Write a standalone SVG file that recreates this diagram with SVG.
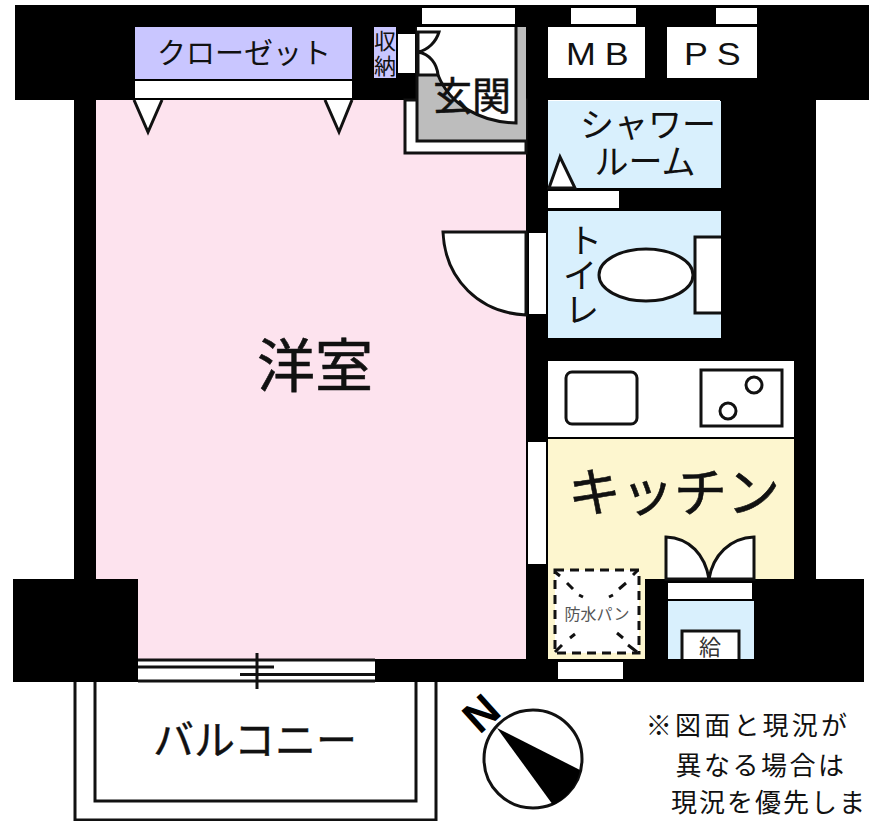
<svg xmlns="http://www.w3.org/2000/svg" width="869" height="821" viewBox="0 0 869 821">
<style>
text{font-family:"Noto Sans CJK JP","Noto Sans",sans-serif;fill:#111;text-anchor:middle;font-weight:400}
.l{fill:none;stroke:#111;stroke-width:3}
.w{fill:#fff;stroke:#111;stroke-width:3}
.d{fill:none;stroke:#111;stroke-width:3}
.en{font-family:"Liberation Sans",sans-serif;font-weight:400;text-anchor:start}
</style>
<rect width="869" height="821" fill="#fff"/>
<g id="walls" fill="#000">
<rect x="15" y="5" width="854" height="95"/>
<rect x="74" y="100" width="22" height="482"/>
<rect x="526" y="100" width="22" height="582"/>
<rect x="720" y="100" width="96" height="261"/>
<rect x="794" y="340" width="22" height="240"/>
<rect x="13" y="579" width="125" height="103"/>
<rect x="645" y="579" width="219" height="103"/>
<rect x="130" y="659" width="520" height="23"/>
<rect x="548" y="188" width="172" height="23"/>
<rect x="548" y="338" width="250" height="23"/>
<rect x="548" y="437" width="246" height="2"/>
</g>
<g id="room-western">
<path d="M96 100H526V659H138V579H96Z" fill="#fde3ee"/>
<text x="315" y="387" font-size="58" stroke="#111" stroke-width="0.6">洋室</text>
</g>
<g id="closet">
<rect x="135" y="27" width="217" height="52" fill="#c9c6ff"/>
<rect x="135" y="81" width="217" height="17" fill="#fff"/>
<path class="w" d="M134 100L148 132L162 100M325 100L339 132L352 100"/>
<text x="244" y="64" font-size="29">クローゼット</text>
</g>
<g id="storage">
<rect x="374" y="27" width="22" height="51" fill="#c9c6ff"/>
<rect x="398" y="34" width="17" height="39" fill="#fff"/>
<text x="385" y="49" font-size="22">収</text>
<text x="385" y="74" font-size="22">納</text>
</g>
<g id="entrance">
<rect x="405" y="100" width="121" height="53" class="w"/>
<rect x="417" y="27" width="109" height="114" fill="#bdbdbd"/>
<path d="M417 27V141H526" class="l"/>
<path d="M417 27H516V123C480 122 450 105 438 75H417Z" fill="#fff"/>
<text x="472" y="110" font-size="39" stroke="#111" stroke-width="0.5">玄関</text>
<path d="M516 27V123C480 122 450 105 438 75" class="l"/>
<path d="M418 32H439C436 42 428 50 418 52C430 54 437 64 438 75H418Z" class="w"/>
<rect x="422" y="8" width="93" height="16" fill="#fff"/>
</g>
<g id="mb">
<rect x="548" y="27" width="97" height="51" fill="#fff"/>
<rect x="571" y="8" width="65" height="16" fill="#fff"/>
<text class="en" transform="translate(566 65) scale(1.12 1)" font-size="32" letter-spacing="8">MB</text>
</g>
<g id="ps">
<rect x="667" y="27" width="90" height="51" fill="#fff"/>
<rect x="716" y="8" width="41" height="16" fill="#fff"/>
<text class="en" transform="translate(684 65) scale(1.12 1)" font-size="32" letter-spacing="8">PS</text>
</g>
<g id="shower">
<rect x="548" y="101" width="173" height="87" fill="#d9f0fd"/>
<path d="M549 188L560 157L575 188Z" class="w"/>
<rect x="548" y="191" width="71" height="17" fill="#fff"/>
<text x="648" y="137" font-size="34">シャワー</text>
<text x="645" y="174" font-size="34">ルーム</text>
</g>
<g id="toilet">
<rect x="548" y="211" width="173" height="127" fill="#d9f0fd"/>
<path d="M443 232H526V315C480 313 445 280 443 232Z" class="w"/>
<rect x="529" y="233" width="17" height="81" fill="#fff"/>
<path d="M721 237H695V313H721" class="w"/>
<ellipse cx="646" cy="275" rx="47" ry="26" class="w"/>
<text x="585" y="253" font-size="34">ト</text>
<text x="580" y="288" font-size="34">イ</text>
<text x="582" y="322" font-size="34">レ</text>
</g>
<g id="kitchen">
<rect x="548" y="361" width="246" height="76" fill="#fff"/>
<rect x="566" y="372" width="71" height="52" rx="6" class="w"/>
<rect x="701" y="370" width="81" height="56" class="w"/>
<circle cx="754" cy="385" r="8" class="w"/>
<circle cx="728" cy="411" r="8" class="w"/>
<path d="M548 439H794V579H645V659H548Z" fill="#fdf6cf"/>
<rect x="528" y="442" width="18" height="122" fill="#fff"/>
<text x="674" y="512" font-size="53" stroke="#111" stroke-width="0.6">キッチン</text>
<path d="M666 579V537C690 538 705 555 709 579C713 555 730 538 754 537V579Z" class="w"/>
<rect x="668" y="583" width="84" height="16" fill="#fff"/>
</g>
<g id="waterproof-pan">
<rect x="555" y="570" width="84" height="83" fill="#fff"/>
<rect x="555" y="570" width="84" height="83" fill="none" stroke="#111" stroke-width="3" stroke-dasharray="9 6"/>
<path class="d" d="M555 572L560 576M567 583L573 589M579 595L583 597M638 570L633 575M626 583L619 589M613 595L609 597M555 652L562 645M570 638L575 634M637 652L628 645M623 638L617 633"/>
<text x="597" y="620" font-size="16" style="fill:#555">防水パン</text>
</g>
<g id="supply">
<rect x="668" y="601" width="86" height="58" fill="#d9f0fd"/>
<path d="M682 659V631H739V659" class="w"/>
<text x="710" y="655" font-size="22" style="fill:#333">給</text>
</g>
<g id="rear-window"><rect x="558" y="662" width="65" height="17" fill="#fff"/></g>
<g id="balcony-window">
<rect x="138" y="661" width="237" height="19" fill="#fff"/>
<path class="l" d="M138 660H375M138 667H274M240 674.5H375M257 653V689M138 681H375"/>
</g>
<g id="balcony">
<path class="l" d="M75 682V820H436V682M95 682V801H416V682"/>
<text x="255" y="755" font-size="41" stroke="#111" stroke-width="0.4">バルコニー</text>
</g>
<g id="compass">
<circle cx="533" cy="759" r="49" fill="#fff" stroke="#111" stroke-width="3"/>
<path d="M497 728L580 770A49 49 0 0 1 553 805Z" fill="#000"/>
<text transform="translate(481 713) rotate(-42)" y="15.5" font-size="44" style="font-family:'Liberation Sans',sans-serif;font-weight:700;fill:#000">N</text>
</g>
<g id="note" font-size="26">
<text x="748" y="735" letter-spacing="3.2">※図面と現況が</text>
<text x="761" y="775" letter-spacing="2.5">異なる場合は</text>
<text x="769" y="812" letter-spacing="2">現況を優先しま</text>
</g>
</svg>
